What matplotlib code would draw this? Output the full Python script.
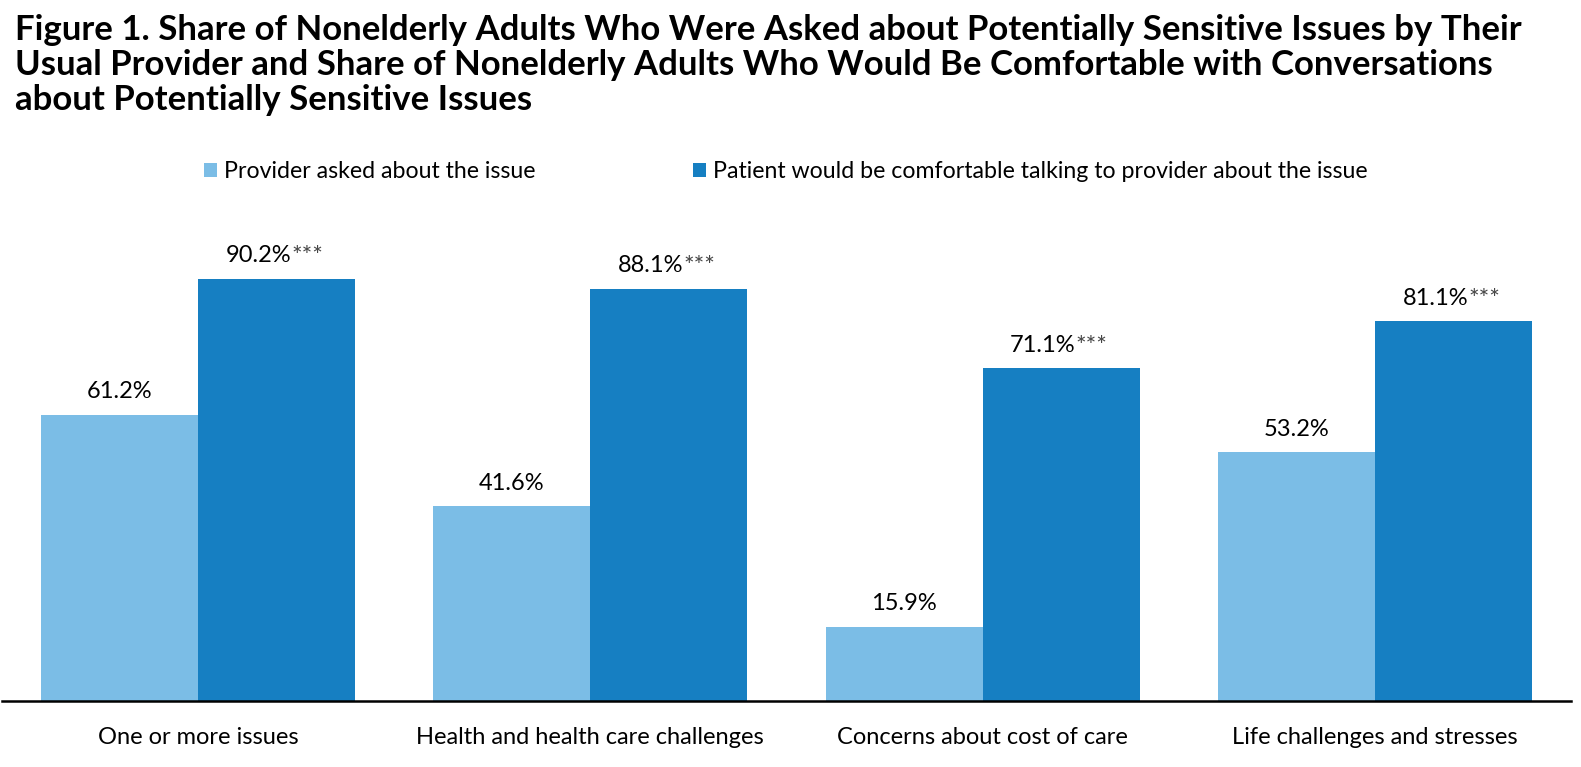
import numpy as np
import matplotlib.pyplot as plt

plt.rcParams['font.family'] = ['Lato', 'DejaVu Sans']

# data
categories = ['One or more issues', 'Health and health care challenges',
              'Concerns about cost of care', 'Life challenges and stresses']
asked = [61.2, 41.6, 15.9, 53.2]
comfortable = [90.2, 88.1, 71.1, 81.1]
series_names = ['Provider asked about the issue',
                'Patient would be comfortable talking to provider about the issue']

light = '#7bbde6'
dark = '#167fc2'

fig = plt.figure(figsize=(15.81, 7.67), dpi=100)
ax = fig.add_axes([2 / 1581, 66 / 767, 1569 / 1581, (697 - 229) / 767])

x = np.arange(len(categories))
w = 0.4
b1 = ax.bar(x - w / 2, asked, w, color=light, label=series_names[0])
b2 = ax.bar(x + w / 2, comfortable, w, color=dark, label=series_names[1])

ax.set_xlim(-0.5, 3.5)
ax.set_ylim(0, 100)
ax.set_yticks([])
ax.set_xticks(x)
ax.set_xticklabels(categories, fontsize=17)
ax.tick_params(axis='x', length=0, pad=19)
for s in ['top', 'right', 'left']:
    ax.spines[s].set_visible(False)
ax.spines['bottom'].set_linewidth(1.8)

# value labels
for xi, v in zip(x - w / 2, asked):
    ax.annotate(f'{v}%', (xi, v), xytext=(0, 9), textcoords='offset points',
                ha='center', va='bottom', fontsize=17)
for xi, v in zip(x + w / 2, comfortable):
    t = ax.annotate(f'{v}%', (xi, v), xytext=(-13, 9), textcoords='offset points',
                    ha='center', va='bottom', fontsize=17)
    ax.annotate('***', xy=(1, 1), xycoords=t, xytext=(0, 0), textcoords='offset points',
                ha='left', va='top', fontsize=18, color='#444444')

# legend
fig.legend(handles=[b1, b2], loc='center', bbox_to_anchor=(0.497, 0.776), ncol=2,
           frameon=False, fontsize=16.7, handlelength=0.55, handleheight=0.55,
           handletextpad=0.3, columnspacing=6.8)

# title
title_lines = ['Figure 1. Share of Nonelderly Adults Who Were Asked about Potentially Sensitive Issues by Their',
               'Usual Provider and Share of Nonelderly Adults Who Would Be Comfortable with Conversations',
               'about Potentially Sensitive Issues']
for i, line in enumerate(title_lines):
    fig.text(15 / 1581, 1 - (40 + 35 * i) / 767, line, fontsize=25, fontweight='bold',
             ha='left', va='baseline')

fig.savefig('out.png', dpi=100)
